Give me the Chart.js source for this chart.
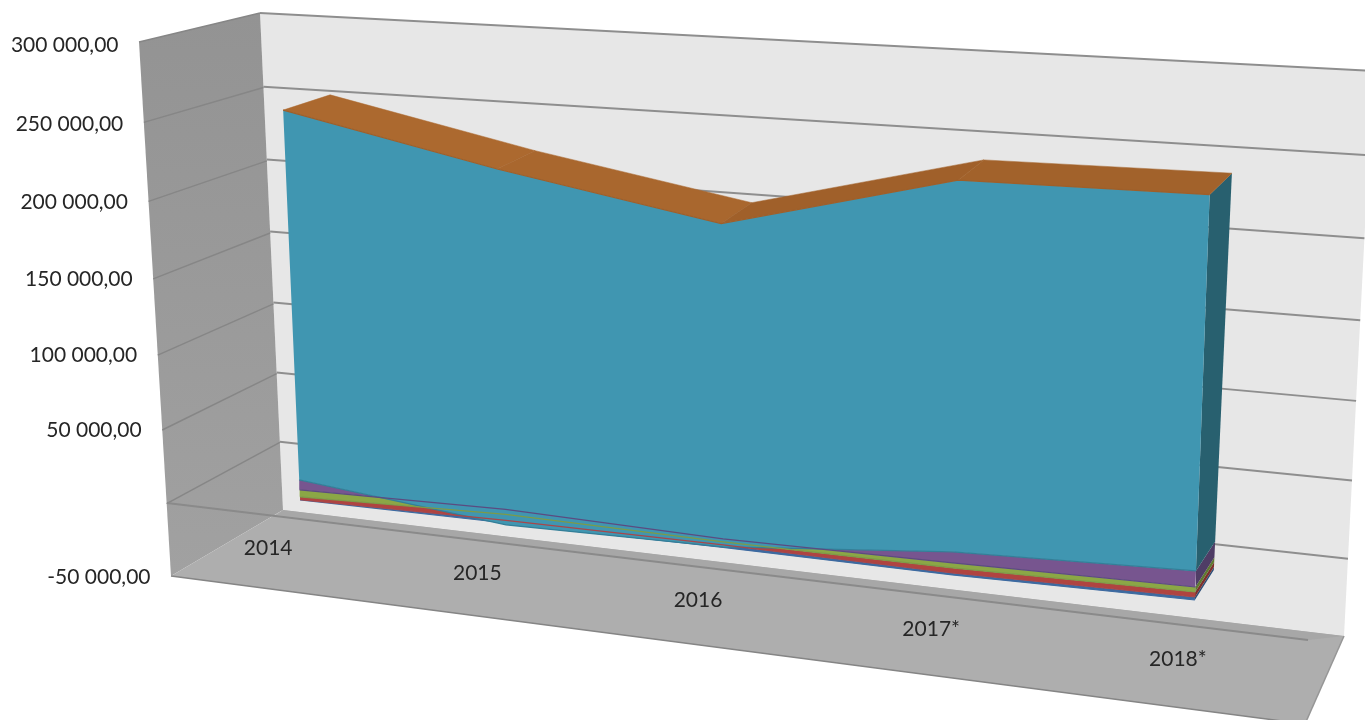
<!DOCTYPE html>
<html>
<head>
<meta charset="utf-8">
<title>Area 3D</title>
<script src="https://cdn.jsdelivr.net/npm/chart.js@4"></script>
<style>
  html, body { margin: 0; padding: 0; background: #fff; }
  canvas { display: block; }
</style>
</head>
<body>
<canvas id="chart" width="1365" height="720"></canvas>
<script>
// Données
const years = ['2014', '2015', '2016', '2017*', '2018*'];
const yMin = -50000;
const yMax = 300000;
const yStep = 50000;

// Niveaux cumulés de chaque série, par année
const blueBottom = [0, 0, 0, -1100, 300];
const redBottom = [100, 1840, 1660, 200, 2200];
const greenBottom = [2090, 5900, 3650, 3430, 5350];
const purpleBottom = [6960, 9300, 5640, 6660, 8490];
const tealBottom = [13920, -1220, 330, 13780, 18560];
const tealTop = [262000, 233000, 208500, 245200, 246400];

// Plans de la perspective : haut-gauche, haut-droite, bas-droite, bas-gauche
const planes = {
    front: quad([280.6, 51.3], [1213, 102.4], [1192, 679.4], [303.2, 571.3]),
    back: quad([328.3, 38.4], [1236, 83], [1210.3, 647.7], [344.3, 538.4]),
    wall: quad([260, 13], [1373, 71], [1344, 636], [283, 510]),
    left: quad([139, 42], [260, 13], [283, 510], [171, 576]),
    floor: quad([283, 510], [1344, 636], [1305, 724], [171, 576]),
    strip: quad([283, 510], [1344, 636], [1308, 640], [277, 515]),
    axis: quad([167, -97], [1308, 40], [1308, 740], [167, 603]),
    labels: quad([248.6, 99.3], [1196, 161.4], [1175, 738.4], [271.3, 619.3]),
    ticks: quad([118.5, 45], [1118.5, 45], [1102.5, 577], [150.5, 577])
};

// Homographie du carré unité vers un quadrilatère
function quad(p0, p1, p2, p3) {
    const dx1 = p1[0] - p2[0], dx2 = p3[0] - p2[0], sx = p0[0] - p1[0] + p2[0] - p3[0];
    const dy1 = p1[1] - p2[1], dy2 = p3[1] - p2[1], sy = p0[1] - p1[1] + p2[1] - p3[1];
    const det = dx1 * dy2 - dx2 * dy1;
    const g = (sx * dy2 - dx2 * sy) / det;
    const h = (dx1 * sy - sx * dy1) / det;
    const a = p1[0] - p0[0] + g * p1[0], b = p3[0] - p0[0] + h * p3[0];
    const d = p1[1] - p0[1] + g * p1[1], e = p3[1] - p0[1] + h * p3[1];
    return (u, v) => {
        const w = g * u + h * v + 1;
        return { x: (a * u + b * v + p0[0]) / w, y: (d * u + e * v + p0[1]) / w };
    };
}

function project(chart, plane, px, py) {
    const area = chart.chartArea;
    return planes[plane]((px - area.left) / (area.right - area.left), (py - area.top) / (area.bottom - area.top));
}

// Les points calculés par Chart.js sont replacés dans leur plan
const perspective = {
    id: 'perspective',
    afterDatasetsUpdate(chart) {
        chart.data.datasets.forEach((ds, i) => {
            chart.getDatasetMeta(i).data.forEach((pt, k) => {
                const plane = ds.data[k].z ? 'back' : (ds.plane || 'front');
                const pos = project(chart, plane, pt.x, pt.y);
                pt.x = pos.x;
                pt.y = pos.y;
            });
        });
    },
    afterDatasetsDraw(chart) {
        const { ctx, scales } = chart;
        ctx.save();
        ctx.font = '21px Lato';
        ctx.fillStyle = '#262626';
        ctx.textBaseline = 'middle';
        ctx.textAlign = 'right';
        scales.y.ticks.forEach(t => {
            if (!t.label) return;
            const pos = project(chart, 'ticks', scales.x.left, scales.y.getPixelForValue(t.value));
            ctx.fillText(t.label, pos.x, pos.y);
        });
        ctx.textAlign = 'center';
        scales.x.ticks.forEach(t => {
            const pos = project(chart, 'labels', scales.x.getPixelForValue(t.value), scales.y.getPixelForValue(0));
            ctx.fillText(t.label, pos.x, pos.y);
        });
        ctx.restore();
    }
};

function formatTick(v) {
    if (v === 0) return '';
    const parts = Math.abs(v).toFixed(2).split('.');
    return (v < 0 ? '-' : '') + parts[0].replace(/\B(?=(\d{3})+$)/g, ' ') + ',' + parts[1];
}

// Rectangle complet d'un plan
function planeRect(plane, color) {
    return {
        plane: plane,
        data: [{ x: 0, y: yMax }, { x: 4, y: yMax }, { x: 4, y: yMin }, { x: 0, y: yMin }, { x: 0, y: yMax }],
        backgroundColor: color,
        borderColor: color,
        borderWidth: 0,
        fill: 'shape'
    };
}

function gridLine(plane, value, color, width) {
    return {
        plane: plane,
        data: [{ x: 0, y: value }, { x: 4, y: value }],
        borderColor: color,
        borderWidth: width || 2,
        fill: false
    };
}

// Bande de face entre deux niveaux
function band(lower, upper, color) {
    const top = upper.map((y, i) => ({ x: i, y: y }));
    const bottom = lower.map((y, i) => ({ x: i, y: y })).reverse();
    return { data: top.concat(bottom, [top[0]]), backgroundColor: color, borderColor: color, borderWidth: 0, fill: 'shape' };
}

function seriesLine(values, color) {
    return { data: values.map((y, i) => ({ x: i, y: y })), borderColor: color, borderWidth: 1.2, fill: false };
}

// Flanc droit entre le plan avant et le plan arrière
function sideFace(lower, upper, color) {
    const low = lower[4], up = upper[4];
    return {
        data: [{ x: 4, y: up }, { x: 4, y: up, z: 1 }, { x: 4, y: low, z: 1 }, { x: 4, y: low }, { x: 4, y: up }],
        backgroundColor: color,
        borderColor: color,
        borderWidth: 0,
        fill: 'shape'
    };
}

// Dessus de la série, une facette par intervalle
function topFacet(i, color) {
    const a = tealTop[i], b = tealTop[i + 1];
    return {
        data: [{ x: i, y: a }, { x: i + 1, y: b }, { x: i + 1, y: b, z: 1 }, { x: i, y: a, z: 1 }, { x: i, y: a }],
        backgroundColor: color,
        borderColor: color,
        borderWidth: 0.5,
        fill: 'shape'
    };
}

const gridValues = [];
for (let v = yMin + yStep; v <= yMax; v += yStep) gridValues.push(v);

const facetColors = ['#ac692f', '#a9672e', '#a0602a', '#a2622b'];

const ctx = document.getElementById('chart').getContext('2d');
const leftShade = ctx.createLinearGradient(0, 13, 0, 576);
leftShade.addColorStop(0, '#939393');
leftShade.addColorStop(1, '#a1a1a1');

// Ordre de peinture : du fond vers l'avant
const layers = [
    planeRect('wall', '#e7e7e7'),
    planeRect('left', leftShade),
    planeRect('floor', '#aeaeae'),
    gridLine('floor', yMin, '#858585', 1.5),
    { plane: 'floor', data: [{ x: 4, y: yMax }, { x: 4, y: yMin }], borderColor: '#969696', borderWidth: 1.5, fill: false },
    planeRect('strip', '#a7a7a7'),
    ...gridValues.map(v => gridLine('wall', v, '#8e8e8e')),
    ...gridValues.map(v => gridLine('left', v, '#868686', 1.5)),
    gridLine('axis', 0, '#8a8a8a'),
    band(blueBottom, redBottom, '#3d6aa0'),
    seriesLine(blueBottom, '#3d6aa0'),
    band(redBottom, greenBottom, '#b04440'),
    band(greenBottom, purpleBottom, '#8ba746'),
    band(purpleBottom, tealBottom, '#77558f'),
    sideFace(blueBottom, redBottom, '#2c4e78'),
    sideFace(redBottom, greenBottom, '#7e302d'),
    sideFace(greenBottom, purpleBottom, '#5f7a30'),
    sideFace(purpleBottom, tealBottom, '#4f3d66'),
    sideFace(tealBottom, tealTop, '#28606f'),
    ...facetColors.map((c, i) => topFacet(i, c)),
    band(tealBottom, tealTop, '#4096b1'),
    seriesLine(tealTop, '#9e5f2a'),
    seriesLine(tealBottom, '#337f98'),
    seriesLine(purpleBottom, '#5b4b80'),
    seriesLine(greenBottom, '#7d9a48'),
    seriesLine(redBottom, '#a8464a')
];
layers.forEach((ds, i) => {
    ds.order = -i;
    ds.pointRadius = 0;
    ds.tension = 0;
    ds.clip = false;
});

new Chart(ctx, {
    type: 'line',
    data: { datasets: layers },
    plugins: [perspective],
    options: {
        responsive: false,
        animation: false,
        layout: { padding: 0 },
        plugins: { legend: { display: false }, tooltip: { enabled: false } },
        scales: {
            x: {
                type: 'linear', display: false, min: 0, max: 4,
                ticks: { stepSize: 1, callback: v => years[v] }
            },
            y: {
                type: 'linear', display: false, min: yMin, max: yMax,
                ticks: { stepSize: yStep, callback: formatTick }
            }
        }
    }
});
</script>
</body>
</html>
